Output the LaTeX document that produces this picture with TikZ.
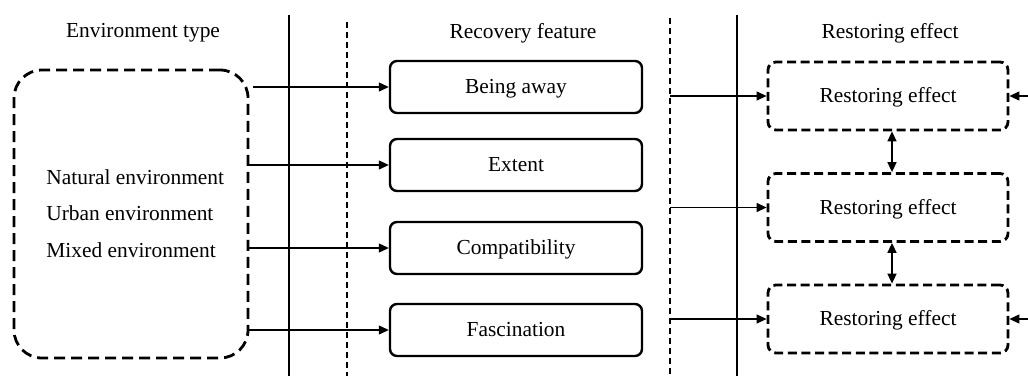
\documentclass[tikz,border=0pt]{standalone}
\usepackage{fontspec}
\setmainfont{Liberation Serif}
\usetikzlibrary{arrows.meta}
\begin{document}
\begin{tikzpicture}[x=0.5pt,y=-0.5pt, font=\fontsize{10.7}{12.8}\selectfont,
 lbl/.style={inner sep=0pt},
 envbox/.style={draw, line width=1.4pt, dash pattern=on 5.5pt off 3pt, rounded corners=14pt, minimum width=117pt, minimum height=144pt, inner sep=0pt},
 featbox/.style={draw, line width=1.2pt, rounded corners=3.5pt, minimum width=126pt, minimum height=26pt, inner sep=0pt, text height=0.66em, text depth=0pt},
 effbox/.style={draw, line width=1.4pt, dash pattern=on 4.5pt off 2.3pt, rounded corners=4pt, minimum width=120pt, minimum height=34pt, inner sep=0pt, text height=0.66em, text depth=0pt},
 sep/.style={line width=1pt},
 dsep/.style={line width=1pt, dash pattern=on 3pt off 2pt},
 arr/.style={line width=0.6pt, -{Triangle[length=5pt,width=4.5pt]}},
 darr/.style={line width=0.8pt, {Triangle[length=5pt,width=4.5pt]}-{Triangle[length=5pt,width=4.5pt]}}]
\useasboundingbox (0,0) rectangle (1028,376);

% separators
\coordinate (V1t) at (289,15); \coordinate (V1b) at (289,376);
\coordinate (V2t) at (347,22); \coordinate (V2b) at (347,376);
\coordinate (V3t) at (670,18); \coordinate (V3b) at (670,376);
\coordinate (V4t) at (737,15); \coordinate (V4b) at (737,376);
\draw[sep] (V1t) -- (V1b);
\draw[dsep] (V2t) -- (V2b);
\draw[dsep] (V3t) -- (V3b);
\draw[sep] (V4t) -- (V4b);

% titles
\node[lbl] (h1) at (143,33) {Environment type};
\node[lbl] (h2) at (523,33) {Recovery feature};
\node[lbl] (h3) at (890,33) {Restoring effect};

% environment box
\node[envbox] (L) at (131,214) {};
\node[lbl, anchor=west] (t1) at (46,177) {Natural environment};
\node[lbl, anchor=west] (t2) at (46,213) {Urban environment};
\node[lbl, anchor=west] (t3) at (46,250) {Mixed environment};

% feature boxes
\node[featbox] (B1) at (516,87) {Being away};
\node[featbox] (B2) at (516,165) {Extent};
\node[featbox] (B3) at (516,248) {Compatibility};
\node[featbox] (B4) at (516,330) {Fascination};

% effect boxes
\node[effbox] (R1) at (888,96) {Restoring effect};
\node[effbox] (R2) at (888,207.5) {Restoring effect};
\node[effbox] (R3) at (888,319) {Restoring effect};

% arrows from environment to features
\draw[arr] ([xshift=2pt]L.east |- B1.west) -- (B1.west);
\draw[arr] (L.east |- B2.west) -- (B2.west);
\draw[arr] (L.east |- B3.west) -- (B3.west);
\draw[arr] (L.east |- B4.west) -- (B4.west);

% arrows into effects
\draw[arr] (V3t |- R1.west) -- (R1.west);
\draw[arr] (V3t |- R2.west) -- (R2.west);
\draw[arr] (V3t |- R3.west) -- (R3.west);

% arrows from the right edge
\coordinate (E1) at (1028,96);
\coordinate (E3) at (1028,319);
\draw[arr] (E1) -- (R1.east);
\draw[arr] (E3) -- (R3.east);

% double arrows between effects
\draw[darr] ([xshift=2pt]R1.south) -- ([xshift=2pt]R2.north);
\draw[darr] ([xshift=2pt]R2.south) -- ([xshift=2pt]R3.north);
\end{tikzpicture}
\end{document}
